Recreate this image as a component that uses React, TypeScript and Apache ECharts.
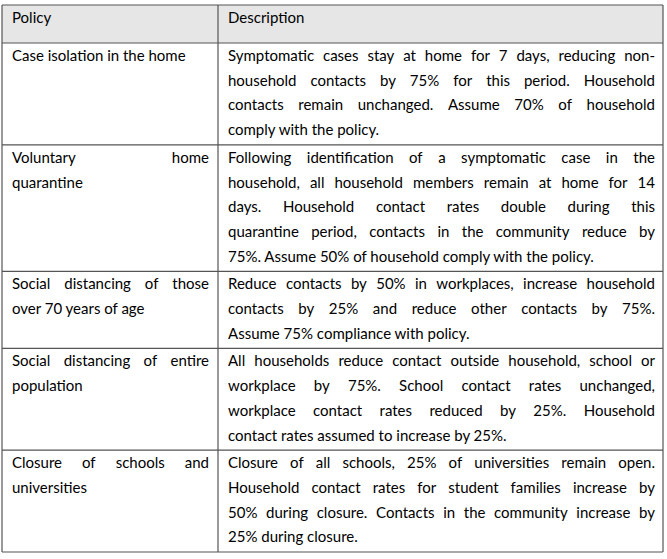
import React, { useEffect, useRef } from "react";
import * as echarts from "echarts";

const headers = ["Policy", "Description"];
// each line: [text, justified]
const policyLines: [string, boolean][][] = [
  [["Case isolation in the home", false]],
  [["Voluntary home", true], ["quarantine", false]],
  [["Social distancing of those", true], ["over 70 years of age", false]],
  [["Social distancing of entire", true], ["population", false]],
  [["Closure of schools and", true], ["universities", false]],
];
const descLines: [string, boolean][][] = [
  [
    ["Symptomatic cases stay at home for 7 days, reducing non-", true],
    ["household contacts by 75% for this period. Household", true],
    ["contacts remain unchanged. Assume 70% of household", true],
    ["comply with the policy.", false],
  ],
  [
    ["Following identification of a symptomatic case in the", true],
    ["household, all household members remain at home for 14", true],
    ["days. Household contact rates double during this", true],
    ["quarantine period, contacts in the community reduce by", true],
    ["75%. Assume 50% of household comply with the policy.", false],
  ],
  [
    ["Reduce contacts by 50% in workplaces, increase household", true],
    ["contacts by 25% and reduce other contacts by 75%.", true],
    ["Assume 75% compliance with policy.", false],
  ],
  [
    ["All households reduce contact outside household, school or", true],
    ["workplace by 75%. School contact rates unchanged,", true],
    ["workplace contact rates reduced by 25%. Household", true],
    ["contact rates assumed to increase by 25%.", false],
  ],
  [
    ["Closure of all schools, 25% of universities remain open.", true],
    ["Household contact rates for student families increase by", true],
    ["50% during closure. Contacts in the community increase by", true],
    ["25% during closure.", false],
  ],
];

const FONT_SIZE = 15;
const FONT_FAMILY = "Lato";
const LH = 24.7;
const X0 = 2, X1 = 218, X2 = 663;
const TOP = 5, HEAD_B = 43;

export default function App() {
  const ref = useRef<HTMLDivElement>(null);
  useEffect(() => {
    const chart = echarts.init(ref.current!, undefined, { renderer: "svg" });
    const canvas = document.createElement("canvas");
    const ctx = canvas.getContext("2d")!;
    ctx.font = `${FONT_SIZE}px ${FONT_FAMILY}`;
    const els: any[] = [];
    const txtStyle = { fontSize: FONT_SIZE, fontFamily: FONT_FAMILY, fill: "#000" };
    const addLine = (s: string, just: boolean, x: number, w: number, y: number) => {
      if (!just) {
        els.push({ type: "text", x, y, style: { ...txtStyle, text: s, textVerticalAlign: "middle" } });
        return;
      }
      const words = s.split(" ");
      const ws = words.map((t) => ctx.measureText(t).width);
      const total = ws.reduce((a, b) => a + b, 0);
      const gap = words.length > 1 ? (w - total) / (words.length - 1) : 0;
      let cx = x;
      words.forEach((t, i) => {
        els.push({ type: "text", x: cx, y, style: { ...txtStyle, text: t, textVerticalAlign: "middle" } });
        cx += ws[i] + gap;
      });
    };
    // header bg
    els.push({ type: "rect", shape: { x: X0, y: TOP, width: X2 - X0, height: HEAD_B - TOP }, style: { fill: "#e6e6e6" } });
    addLine(headers[0], false, 12, 0, TOP + 12);
    addLine(headers[1], false, 228, 0, TOP + 12);
    const hLines = [TOP, HEAD_B];
    let y = HEAD_B;
    descLines.forEach((rows, r) => {
      const n = Math.max(rows.length, policyLines[r].length);
      policyLines[r].forEach(([s, j], i) => addLine(s, j, 12, X1 - 12 - 9, y + 12 + i * LH));
      rows.forEach(([s, j], i) => addLine(s, j, 228, X2 - 228 - 8, y + 12 + i * LH));
      y += n * LH + 3;
      hLines.push(y);
    });
    const lineStyle = { stroke: "#555", lineWidth: 1.2 };
    hLines.forEach((hy) => els.push({ type: "line", shape: { x1: X0, y1: hy, x2: X2, y2: hy }, style: lineStyle }));
    [X0, X1, X2].forEach((vx) => els.push({ type: "line", shape: { x1: vx, y1: TOP, x2: vx, y2: y }, style: lineStyle }));
    chart.setOption({ animation: false, graphic: { elements: els } });
    return () => chart.dispose();
  }, []);
  return <div ref={ref} style={{ position: "fixed", left: 0, top: 0, width: 667, height: 559, background: "#fff" }} />;
}
